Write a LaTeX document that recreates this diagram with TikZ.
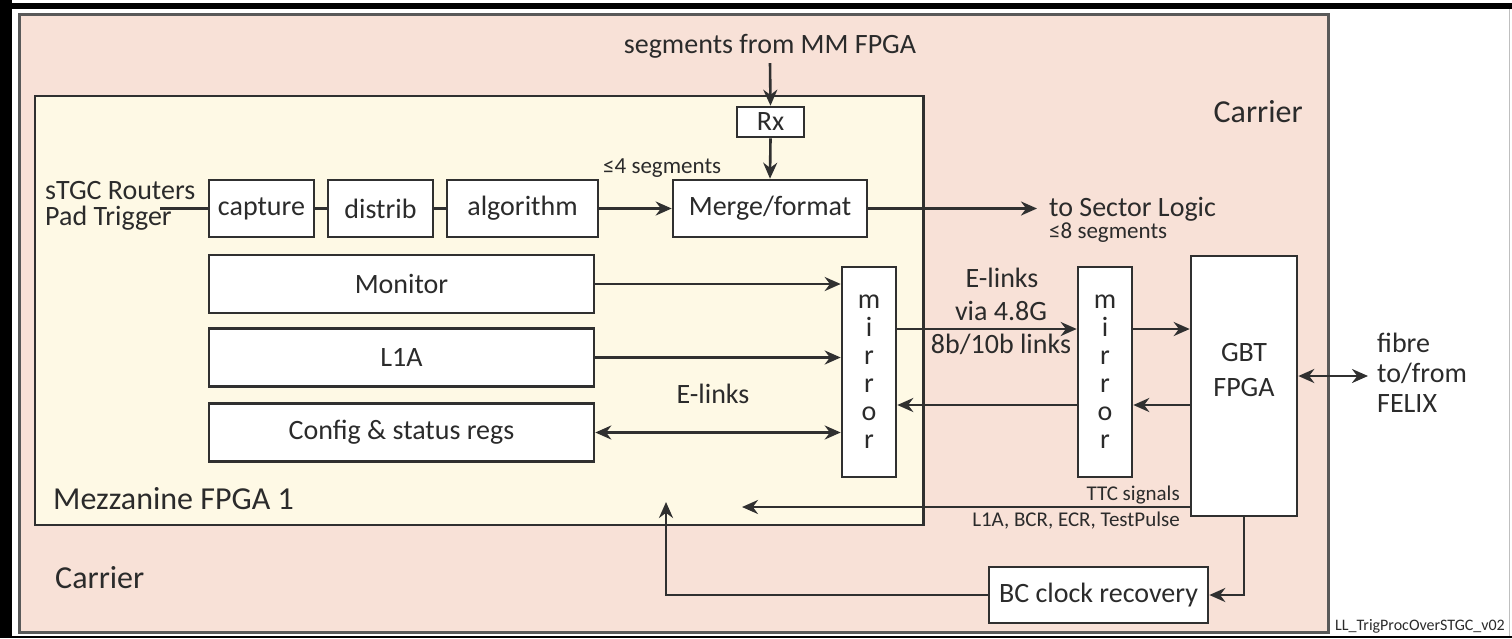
\documentclass[tikz,border=0pt]{standalone}
\usepackage{fontspec}
\setmainfont{Carlito}
\usetikzlibrary{arrows.meta}
\newcommand\myfs[2]{\fontsize{#1}{#2}\selectfont}
\definecolor{carrierfill}{HTML}{F8E1D7}
\definecolor{mezzfill}{HTML}{FEF9E5}
\definecolor{linec}{HTML}{303030}
\definecolor{textc}{HTML}{2B2B2B}
\begin{document}
\begin{tikzpicture}[x=1pt,y=-1pt,
  ln/.style={draw=linec, line width=2.6pt},
  arr/.style={ln, -{Stealth[length=16pt,width=14pt]}},
  arrboth/.style={ln, {Stealth[length=16pt,width=14pt]}-{Stealth[length=16pt,width=14pt]}},
  box/.style={draw=linec, line width=2.6pt, fill=white, inner sep=0pt,
              text=textc, font=\myfs{28}{28}},
  txt/.style={inner sep=0pt, text=textc, font=\myfs{28}{28}},
  bigtxt/.style={txt, font=\myfs{32}{32}},
  smalltxt/.style={txt, font=\myfs{23}{23}},
  tinytxt/.style={txt, font=\myfs{21}{21}}]
\useasboundingbox (0,0) rectangle (1512,638);

% outer frame of the sheet
\fill[black] (0,3) rectangle (1512,9);
\fill[black] (0,0) rectangle (12,638);
\fill[black] (0,635.5) rectangle (1512,638);
\draw[gray!50, line width=1pt] (1509.5,9) -- (1509.5,635.5);

% carrier board and mezzanine FPGA
\draw[draw=black!65, line width=3pt, fill=carrierfill] (19.5,14.5) rectangle (1328,632.5);
\draw[draw=linec, line width=2.6pt, fill=mezzfill] (35,96) rectangle (923.5,525);

% trigger path
\node[box, minimum width=105, minimum height=57] (cap) at (261.5,208.5) {capture};
\node[box, minimum width=105, minimum height=57] (dis) at (380.5,208.5) {distrib};
\node[box, minimum width=151, minimum height=57] (alg) at (522.5,208.5) {algorithm};
\node[box, minimum width=194, minimum height=57] (mrg) at (770,208.5) {Merge/format};
\node[box, minimum width=67, minimum height=30] (rx) at (770.5,122) {Rx};

% e-link blocks
\node[box, minimum width=385, minimum height=58] (mon) at (401.5,284) {Monitor};
\node[box, minimum width=385, minimum height=58] (l1a) at (401.5,357.5) {L1A};
\node[box, minimum width=385, minimum height=58] (cfg) at (401.5,432.5) {Config \& status regs};

\node[box, minimum width=54, minimum height=210, align=center] (mir1) at (869,372) {m\\i\\r\\r\\o\\r};
\node[box, minimum width=54, minimum height=210, align=center] (mir2) at (1105,372) {m\\i\\r\\r\\o\\r};

\node[box, minimum width=106, minimum height=260] (gbt) at (1244,386) {};
\node[txt, align=center, font=\myfs{28}{35}] (gbttxt) at (1244,370.5) {GBT\\FPGA};
\node[box, minimum width=219, minimum height=56] (bc) at (1098.5,595) {BC clock recovery};

% labels
\node[txt, anchor=base] (seg) at (770,53) {segments from MM FPGA};
\node[txt, anchor=base west] (stgc) at (45,199) {sTGC Routers};
\node[txt, anchor=base west] (pad) at (45,225) {Pad Trigger};
\node[smalltxt, anchor=base west] (seg4) at (603,173) {≤4 segments};
\node[txt, anchor=base west] (secl) at (1049,216) {to Sector Logic};
\node[smalltxt, anchor=base west] (seg8) at (1049,238) {≤8 segments};
\node[bigtxt, anchor=base east] (carrA) at (1303,122) {Carrier};
\node[bigtxt, anchor=base west] (mezz) at (53,509) {Mezzanine FPGA 1};
\node[bigtxt, anchor=base west] (carrB) at (55,588) {Carrier};
\node[txt, anchor=base] (elA) at (713,403) {E-links};
\node[txt, anchor=base] (elB) at (1002,287) {E-links};
\node[txt, anchor=base] (elC) at (1001,320) {via 4.8G};
\node[txt, anchor=base] (elD) at (1001,353) {8b/10b links};
\node[txt, anchor=base west] (fibA) at (1377,352) {fibre};
\node[txt, anchor=base west] (fibB) at (1377,382) {to/from};
\node[txt, anchor=base west] (fibC) at (1377,412) {FELIX};
\node[tinytxt, anchor=base east] (ttcA) at (1180,500) {TTC signals};
\node[tinytxt, anchor=base east] (ttcB) at (1180,526) {L1A, BCR, ECR, TestPulse};
\node[txt, font=\myfs{16}{16}, anchor=base west] (tag) at (1335,630) {LL\_TrigProcOverSTGC\_v02};

% connector end points and rows
\coordinate (inp) at (160,208.5);
\coordinate (sl) at (1037,208.5);
\coordinate (ttc) at (742,507);
\coordinate (felix) at (1368,376);
\coordinate (clk) at (666,502);
\coordinate (rowA) at (0,329);
\coordinate (rowB) at (0,405);
\coordinate (rowT) at (0,507);
\coordinate (rowF) at (0,376);

% connectors
\draw[ln] (inp) -- (cap.west);
\draw[ln] (cap.east) -- (dis.west);
\draw[ln] (dis.east) -- (alg.west);
\draw[arr] (alg.east) -- (mrg.west);
\draw[arr] ([yshift=-5pt]seg.south) -- (rx.north);
\draw[arr] (rx.south) -- (mrg.north);
\draw[arr] (mrg.east) -- (sl);
\draw[arr] (mon.east) -- (mon.east -| mir1.west);
\draw[arr] (l1a.east) -- (l1a.east -| mir1.west);
\draw[arrboth] (cfg.east) -- (cfg.east -| mir1.west);
\draw[arr] (mir1.east |- rowA) -- (mir2.west |- rowA);
\draw[arr] (mir2.east |- rowA) -- (gbt.west |- rowA);
\draw[arr] (gbt.west |- rowB) -- (mir2.east |- rowB);
\draw[arr] (mir2.west |- rowB) -- (mir1.east |- rowB);
\draw[arr] (gbt.west |- rowT) -- (ttc);
\draw[arrboth] (gbt.east |- rowF) -- (felix);
\draw[arr] (gbt.south) |- (bc.east);
\draw[arr] (bc.west) -| (clk);
\end{tikzpicture}
\end{document}
